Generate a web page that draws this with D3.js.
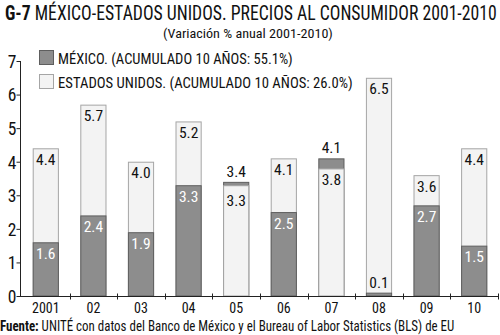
<!DOCTYPE html>
<html><head><meta charset="utf-8">
<script src="https://cdn.jsdelivr.net/npm/d3@7"></script>
<style>
body{margin:0;background:#fff}
text{font-family:"Liberation Sans Narrow","Arial Narrow","Roboto Condensed","Liberation Sans",sans-serif;fill:#111}
</style>
</head><body>
<svg id="c" width="500" height="335"></svg>
<script>
const years = ["2001","02","03","04","05","06","07","08","09","10"];
const mexico = [1.6, 2.4, 1.9, 3.3, 3.4, 2.5, 4.1, 0.1, 2.7, 1.5];
const eeuu   = [4.4, 5.7, 4.0, 5.2, 3.3, 4.1, 3.8, 6.5, 3.6, 4.4];
const yTickValues = [0,1,2,3,4,5,6,7];
const titleBold = "G-7";
const titleText = " MÉXICO-ESTADOS UNIDOS. PRECIOS AL CONSUMIDOR 2001-2010";
const subtitle = "(Variación % anual 2001-2010)";
const legendLabels = ["MÉXICO. (ACUMULADO 10 AÑOS: 55.1%)","ESTADOS UNIDOS. (ACUMULADO 10 AÑOS: 26.0%)"];
const sourceBold = "Fuente:";
const sourceText = " UNITÉ con datos del Banco de México y el Bureau of Labor Statistics (BLS) de EU";

const darkFill="#8d8d8d", darkStroke="#5e5e5e", lightFill="#f3f3f3", lightStroke="#a5a5a5";

const svg = d3.select("#c");
const x = d3.scaleBand().domain(years).range([22,498]).paddingInner(0.45).paddingOuter(0.225);
const y = d3.scaleLinear().domain([0,7]).range([296,61]);

// place text at (px,py) and squeeze horizontally to width w
function fitText(sel, px, py, w){
  const len = sel.node().getComputedTextLength();
  const sx = len > 0 ? Math.min(1.15, w/len) : 1;
  sel.attr("x",0).attr("y",0).attr("transform","translate("+px+","+py+") scale("+sx+",1)");
}

// title
const t = svg.append("text").attr("font-size",20.5);
t.append("tspan").attr("font-weight","bold").text(titleBold);
t.append("tspan").text(titleText);
fitText(t, 5, 20, 492);
const st = svg.append("text").attr("font-size",13.5).text(subtitle);
fitText(st, 163, 38, 170);

// bars
const g = svg.append("g");
years.forEach((yr,i)=>{
  const m = mexico[i], e = eeuu[i];
  const items = [{v:m,dark:true},{v:e,dark:false}].sort((a,b)=>b.v-a.v);
  items.forEach(d=>{
    g.append("rect").attr("x",x(yr)+0.5).attr("width",x.bandwidth()-1)
      .attr("y",y(d.v)+0.5).attr("height",Math.max(0,y(0)-y(d.v)-0.5))
      .attr("fill",d.dark?darkFill:lightFill).attr("stroke",d.dark?darkStroke:lightStroke).attr("stroke-width",1);
  });
});
// labels
years.forEach((yr,i)=>{
  const m = mexico[i], e = eeuu[i];
  const cx = x(yr)+x.bandwidth()/2;
  let ly = y(e)+16.5;
  if (m>e) ly = Math.max(ly, y(m)+24);
  svg.append("text").attr("x",cx).attr("y",ly).attr("text-anchor","middle").attr("font-size",15.5).text(e.toFixed(1));
  let dy, col="#111";
  if (m>e || m<0.5) { dy = y(m)-5; }
  else { dy = y(m)+16.5; col="#fff"; }
  svg.append("text").attr("x",cx).attr("y",dy).attr("text-anchor","middle").attr("font-size",15.5).style("fill",col).text(m.toFixed(1));
});

// y axis
const ya = svg.append("g").attr("transform","translate(20.5,0)")
  .call(d3.axisLeft(y).tickValues(yTickValues).tickSize(4).tickFormat(d3.format("d")));
ya.select(".domain").attr("stroke","#222").attr("d","M0,"+y(7)+"V"+y(0));
ya.selectAll(".tick line").attr("stroke","#222");
ya.selectAll(".tick text").attr("font-size",17.5).attr("x",-4).attr("dy","0.36em").style("font-family",null);

// x axis
const xa = svg.append("g").attr("transform","translate(0,"+(y(0)+0.5)+")");
xa.append("line").attr("x1",20).attr("x2",498).attr("stroke","#222");
const step = x.step();
years.forEach((yr,i)=>{
  const bx = x(yr)+x.bandwidth()/2 + step/2;
  xa.append("line").attr("x1",Math.round(bx)+0.5).attr("x2",Math.round(bx)+0.5).attr("y1",-3).attr("y2",3).attr("stroke","#222");
  xa.append("text").attr("x",x(yr)+x.bandwidth()/2).attr("y",16.3).attr("text-anchor","middle").attr("font-size",14).text(yr);
});

// legend
const leg = svg.append("g");
const legW = [235, 295];
legendLabels.forEach((lab,i)=>{
  const yy = 50 + i*24;
  leg.append("rect").attr("x",39.5).attr("y",yy+0.5).attr("width",14).attr("height",14)
    .attr("fill",i===0?darkFill:lightFill).attr("stroke",i===0?darkStroke:lightStroke);
  const lt = leg.append("text").attr("font-size",15.5).text(lab);
  fitText(lt, 58, yy+13.5, legW[i]);
});

// source
const s = svg.append("text").attr("font-size",14);
s.append("tspan").attr("font-weight","bold").text(sourceBold);
s.append("tspan").text(sourceText);
fitText(s, 0, 331, 455);
</script>
</body></html>
